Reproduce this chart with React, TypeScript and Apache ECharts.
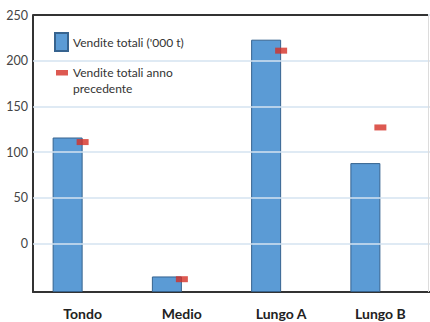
import React, { useEffect, useRef } from "react";
import * as echarts from "echarts";

const categories = ["Tondo", "Medio", "Lungo A", "Lungo B"];
const salesTotal = [116, -36, 223, 88];
const salesPrevYear = [111, -39, 211, 127];
const gridTicks = [0, 50, 100, 150, 200, 250];
const axisMin = -53;
const axisMax = 250;

const NAME_TOTAL = "Vendite totali ('000 t)";
const NAME_PREV = "Vendite totali anno precedente";

const FONT = "Lato, 'DejaVu Sans Condensed', sans-serif";

export default function App() {
  const ref = useRef<HTMLDivElement>(null);
  useEffect(() => {
    document.body.style.margin = "0";
    const chart = echarts.init(ref.current!, null, { renderer: "svg" });
    chart.setOption({
      animation: false,
      backgroundColor: "#ffffff",
      textStyle: { fontFamily: FONT },
      grid: { left: 33, right: -1, top: 15, bottom: 30 },
      legend: {
        orient: "vertical",
        left: 54,
        top: 32,
        padding: 0,
        itemWidth: 13,
        itemHeight: 18,
        itemGap: -3.5,
        formatter: (name: string) =>
          name === NAME_PREV ? "\u00a0\nVendite totali anno\nprecedente" : name,
        textStyle: { fontFamily: FONT, fontSize: 12, color: "#333", lineHeight: 16 },
        data: [
          { name: NAME_TOTAL, icon: "rect" },
          {
            name: NAME_PREV,
            icon: "path://M0,0L0.01,0L0.01,0.01Z M1,6.5L13,6.5L13,12L1,12Z M13,18L13.01,18L13.01,18.01Z",
          },
        ],
      },
      graphic: [
        {
          type: "line",
          shape: { x1: 33, y1: 15, x2: 428, y2: 15 },
          style: { stroke: "#333", lineWidth: 2 },
          z: 10,
        },
        {
          type: "line",
          shape: { x1: 428.5, y1: 15, x2: 428.5, y2: 292 },
          style: { stroke: "#dcdcdc", lineWidth: 1 },
          z: 10,
        },
      ],
      xAxis: {
        type: "category",
        data: categories,
        position: "bottom",
        axisLine: { onZero: false, lineStyle: { color: "#333", width: 2 } },
        axisTick: { show: false },
        axisLabel: {
          fontFamily: FONT,
          fontWeight: "bold",
          fontSize: 14,
          color: "#222",
          margin: 14,
        },
        splitLine: { show: false },
      },
      yAxis: {
        type: "value",
        min: axisMin,
        max: axisMax,
        startValue: axisMin,
        splitNumber: 5,
        axisLine: { show: true, lineStyle: { color: "#333", width: 2 } },
        axisTick: { show: false },
        axisLabel: {
          showMinLabel: false,
          fontFamily: FONT,
          fontSize: 12.5,
          color: "#444",
          margin: 5,
          formatter: (v: number) => (v >= 0 ? String(v) : ""),
        },
        splitLine: { show: false },
      },
      series: [
        {
          name: NAME_TOTAL,
          type: "bar",
          data: salesTotal,
          barWidth: 30,
          barGap: "0%",
          itemStyle: { color: "#5b9bd5", borderColor: "#36638f", borderWidth: 1 },
          z: 3,
        },
        {
          name: "_spacer",
          type: "bar",
          data: categories.map(() => "-"),
          barWidth: 30,
          barGap: "0%",
          silent: true,
          z: 1,
          markLine: {
            silent: true,
            symbol: "none",
            label: { show: false },
            lineStyle: { color: "#d5e3f1", width: 1.5, type: "solid" },
            data: gridTicks.map((t) => ({ yAxis: t })),
          },
        },
        {
          name: NAME_PREV,
          type: "scatter",
          data: salesPrevYear,
          symbol: "rect",
          symbolSize: [12, 6],
          itemStyle: { color: "#d42f25" },
          z: 5,
        },
      ],
    });
    return () => chart.dispose();
  }, []);
  return <div ref={ref} style={{ width: 430, height: 322 }} />;
}
